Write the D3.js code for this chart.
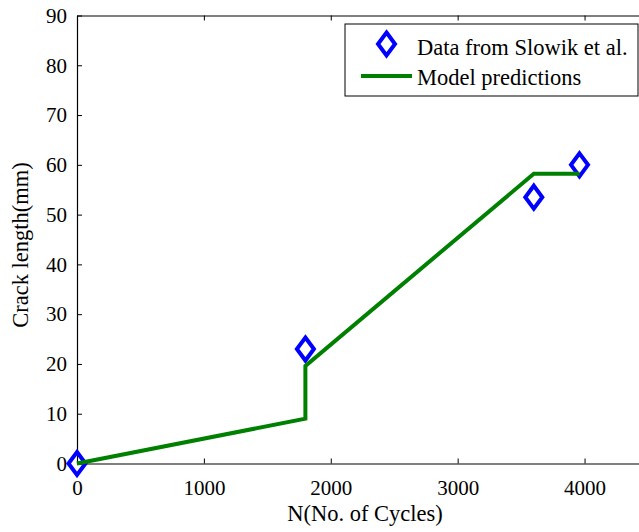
<!DOCTYPE html>
<html>
<head>
<meta charset="utf-8">
<script src="https://cdn.jsdelivr.net/npm/d3@7"></script>
<style>
  html, body { margin: 0; padding: 0; background: #fff; }
  svg { display: block; }
  text { font-family: "Liberation Serif", "Times New Roman", serif; fill: #000; }
</style>
</head>
<body>
<svg id="chart" width="639" height="532"></svg>
<script>
// Measured crack lengths (Slowik et al.)
const dataCycles = [0, 1800, 3600, 3960];
const dataLength = [0, 23, 53.5, 60];

// Model prediction polyline
const modelCycles = [0, 1800, 1800, 3600, 3960];
const modelLength = [0, 9, 19.6, 58.2, 58.2];

const xTicks = [0, 1000, 2000, 3000, 4000];
const yTicks = [0, 10, 20, 30, 40, 50, 60, 70, 80, 90];

const seriesNames = ["Data from Slowik et al.", "Model predictions"];

const svg = d3.select("#chart");
const padLeft = 77, padTop = 15.5, plotW = 571, plotH = 448;

const x = d3.scaleLinear().domain([0, 4500]).range([padLeft, padLeft + plotW]);
const y = d3.scaleLinear().domain([0, 90]).range([padTop + plotH, padTop]);

const serif = "'Liberation Serif', 'Times New Roman', serif";
const tickFont = 21;
const labelFont = 22.5;

// Axes (ticks pointing inward, box style)
const gx = svg.append("g").attr("transform", `translate(0,${padTop + plotH})`)
  .call(d3.axisBottom(x).tickValues(xTicks).tickSizeInner(-5).tickSizeOuter(0).tickPadding(17).tickFormat(d3.format("d")));
const gxt = svg.append("g").attr("transform", `translate(0,${padTop})`)
  .call(d3.axisTop(x).tickValues(xTicks).tickSizeInner(-5).tickSizeOuter(0).tickFormat(""));
const gy = svg.append("g").attr("transform", `translate(${padLeft},0)`)
  .call(d3.axisLeft(y).tickValues(yTicks).tickSizeInner(-5).tickSizeOuter(0).tickPadding(10).tickFormat(d3.format("d")));
const gyr = svg.append("g").attr("transform", `translate(${padLeft + plotW},0)`)
  .call(d3.axisRight(y).tickValues(yTicks).tickSizeInner(-5).tickSizeOuter(0).tickFormat(""));

[gx, gxt, gy, gyr].forEach(g => {
  g.attr("font-family", null).attr("font-size", null);
  g.selectAll("path.domain").attr("stroke", "#000").attr("stroke-width", 1.2);
  g.selectAll(".tick line").attr("stroke", "#000").attr("stroke-width", 1);
  g.selectAll("text").style("font-family", serif).style("font-size", tickFont + "px").attr("fill", "#000");
});

// Axis titles
svg.append("text")
  .attr("x", 365).attr("y", 521)
  .attr("text-anchor", "middle")
  .style("font-family", serif)
  .style("font-size", labelFont + "px")
  .text("N(No. of Cycles)");

svg.append("text")
  .attr("transform", `translate(28,245) rotate(-90)`)
  .attr("text-anchor", "middle")
  .style("font-family", serif)
  .style("font-size", labelFont + "px")
  .text("Crack length(mm)");

// Diamond marker path
const diamond = (hw, hh) => `M0,${-hh}L${hw},0L0,${hh}L${-hw},0Z`;

// Data markers
const points = dataCycles.map((c, i) => ({ c, v: dataLength[i] }));
svg.append("g").selectAll("path")
  .data(points)
  .enter().append("path")
  .attr("transform", d => `translate(${x(d.c)},${y(d.v)})`)
  .attr("d", diamond(8.5, 11.5))
  .attr("fill", "none")
  .attr("stroke", "#0000ff")
  .attr("stroke-width", 4)
  .attr("stroke-linejoin", "miter");

// Model line
const model = modelCycles.map((c, i) => ({ c, v: modelLength[i] }));
svg.append("path")
  .datum(model)
  .attr("d", d3.line().x(d => x(d.c)).y(d => y(d.v)))
  .attr("fill", "none")
  .attr("stroke", "#008000")
  .attr("stroke-width", 4);

// Legend
const lg = svg.append("g");
lg.append("rect")
  .attr("x", 345).attr("y", 24).attr("width", 293).attr("height", 72)
  .attr("fill", "#fff").attr("stroke", "#000").attr("stroke-width", 1);
lg.append("path")
  .attr("transform", "translate(386.5,44)")
  .attr("d", diamond(8.5, 11.5))
  .attr("fill", "none").attr("stroke", "#0000ff").attr("stroke-width", 4);
lg.append("line")
  .attr("x1", 361).attr("x2", 412).attr("y1", 76).attr("y2", 76)
  .attr("stroke", "#008000").attr("stroke-width", 4);
lg.selectAll("text.lab")
  .data(seriesNames)
  .enter().append("text")
  .attr("class", "lab")
  .attr("x", 417)
  .attr("y", (d, i) => 55 + i * 30)
  .style("font-family", serif)
  .style("font-size", labelFont + "px")
  .text(d => d);
</script>
</body>
</html>
